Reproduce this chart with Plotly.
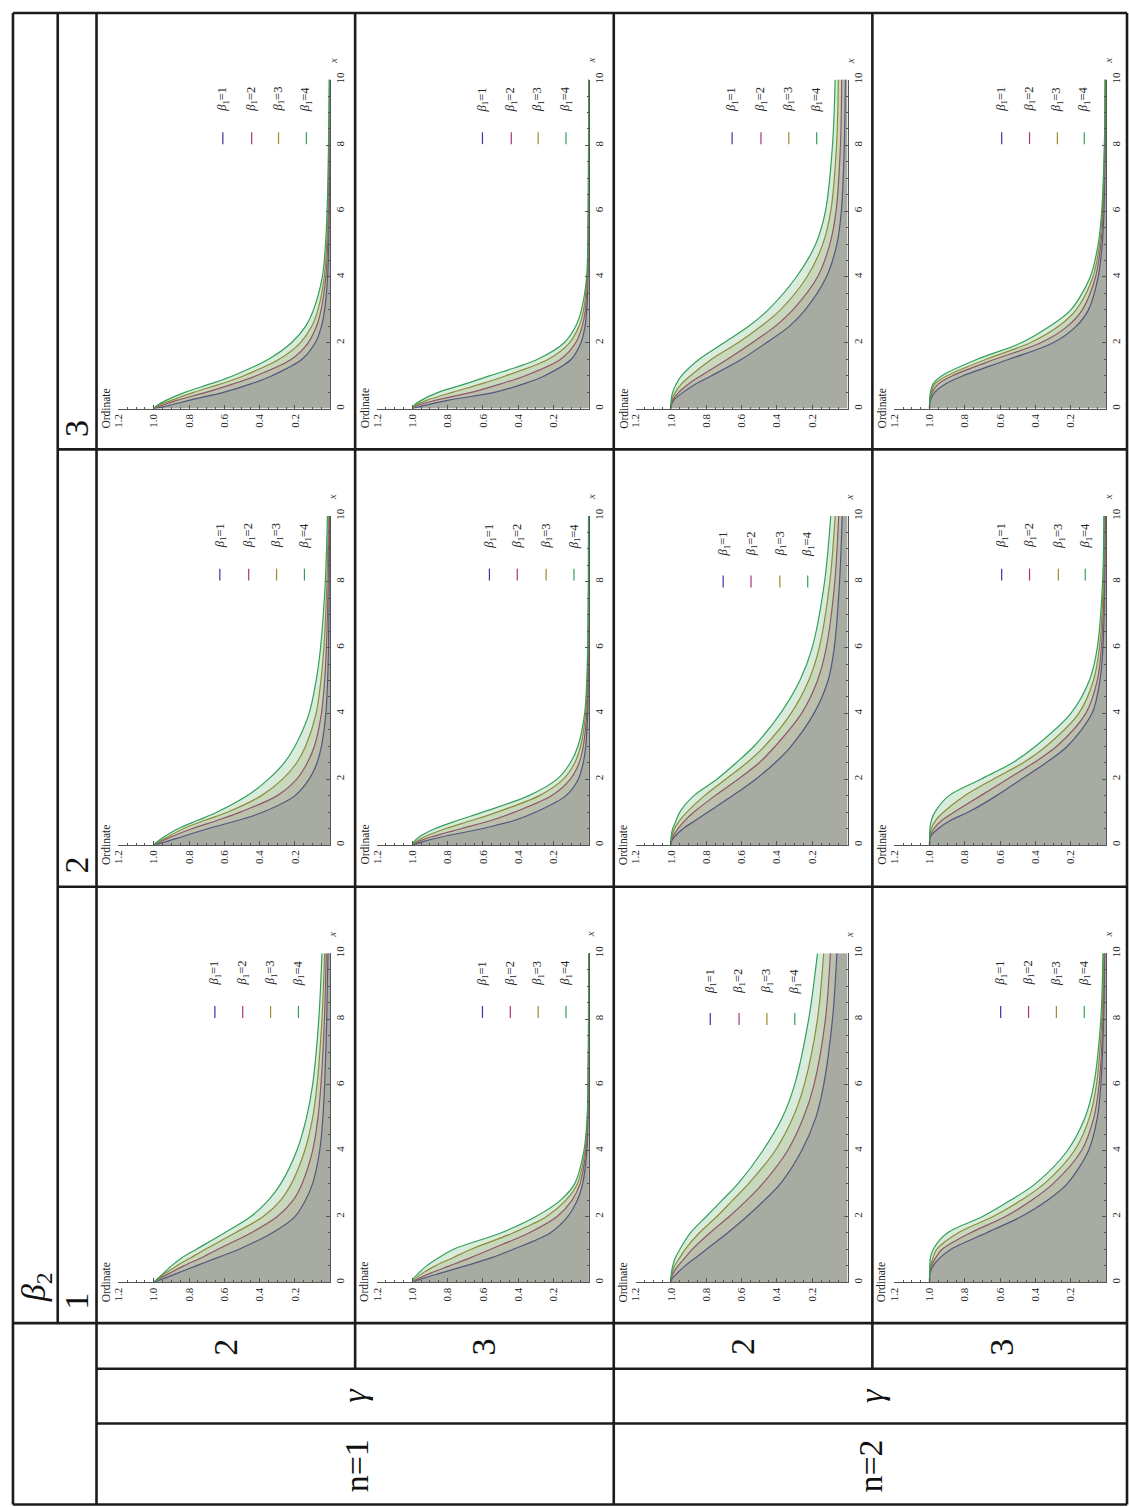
import plotly.graph_objects as go

W, H = 1129, 1507

# ---------------- data ----------------
x_vals = [0, 0.1, 0.25, 0.5, 0.75, 1, 1.5, 2, 2.5, 3, 4, 5, 6, 8, 10]
beta1_values = [1, 2, 3, 4]
beta2_rows = [3, 2, 1]                 # table rows, top to bottom
columns = [(1, 2), (1, 3), (2, 2), (2, 3)]   # (n, gamma) left to right
ord_ticks = [0.2, 0.4, 0.6, 0.8, 1.0, 1.2]
ord_ticktext = ["0.2", "0.4", "0.6", "0.8", "1.0", "1.2"]
x_ticks = [0, 2, 4, 6, 8, 10]
x_ticktext = ["0", "2", "4", "6", "8", "10"]

# ordinate values, one list per beta1 = 1..4
n1g2b3 = [
    [1, 0.91, 0.8, 0.6, 0.45, 0.33, 0.16, 0.085, 0.05, 0.032, 0.015, 0.009, 0.006, 0.003, 0.002],
    [1, 0.95, 0.87, 0.7, 0.55, 0.42, 0.22, 0.125, 0.078, 0.052, 0.025, 0.015, 0.01, 0.005, 0.003],
    [1, 0.97, 0.9, 0.77, 0.62, 0.49, 0.29, 0.17, 0.105, 0.07, 0.034, 0.02, 0.013, 0.007, 0.004],
    [1, 0.98, 0.93, 0.82, 0.68, 0.55, 0.35, 0.22, 0.14, 0.095, 0.045, 0.027, 0.018, 0.01, 0.006],
]
n1g3b3 = [
    [1, 0.93, 0.8, 0.53, 0.37, 0.25, 0.1, 0.045, 0.022, 0.012, 0.005, 0.003, 0.002, 0.001, 0.001],
    [1, 0.97, 0.87, 0.66, 0.5, 0.36, 0.16, 0.075, 0.038, 0.02, 0.008, 0.004, 0.002, 0.001, 0.001],
    [1, 0.98, 0.92, 0.77, 0.61, 0.47, 0.23, 0.11, 0.056, 0.03, 0.01, 0.005, 0.003, 0.0015, 0.001],
    [1, 0.99, 0.95, 0.85, 0.7, 0.56, 0.29, 0.14, 0.075, 0.042, 0.013, 0.006, 0.004, 0.002, 0.001],
]
n2g2b3 = [
    [1, 0.998, 0.985, 0.93, 0.86, 0.77, 0.6, 0.46, 0.33, 0.24, 0.12, 0.06, 0.035, 0.018, 0.012],
    [1, 0.999, 0.99, 0.955, 0.9, 0.83, 0.68, 0.54, 0.41, 0.31, 0.17, 0.1, 0.065, 0.04, 0.033],
    [1, 1, 0.995, 0.975, 0.94, 0.89, 0.77, 0.62, 0.49, 0.38, 0.23, 0.14, 0.095, 0.062, 0.052],
    [1, 1, 0.999, 0.99, 0.97, 0.94, 0.84, 0.7, 0.56, 0.45, 0.29, 0.18, 0.125, 0.085, 0.07],
]
n2g3b3 = [
    [1, 1, 0.995, 0.97, 0.91, 0.81, 0.55, 0.3, 0.17, 0.1, 0.045, 0.022, 0.012, 0.005, 0.003],
    [1, 1, 0.998, 0.985, 0.95, 0.87, 0.63, 0.37, 0.22, 0.135, 0.06, 0.03, 0.017, 0.007, 0.004],
    [1, 1, 0.999, 0.99, 0.97, 0.9, 0.68, 0.43, 0.27, 0.17, 0.075, 0.037, 0.021, 0.009, 0.005],
    [1, 1, 1, 0.995, 0.98, 0.93, 0.73, 0.48, 0.32, 0.2, 0.09, 0.045, 0.025, 0.01, 0.006],
]
n1g2b2 = [
    [1, 0.93, 0.84, 0.69, 0.52, 0.38, 0.2, 0.12, 0.075, 0.05, 0.025, 0.015, 0.01, 0.006, 0.004],
    [1, 0.96, 0.9, 0.78, 0.64, 0.51, 0.3, 0.19, 0.13, 0.09, 0.05, 0.032, 0.022, 0.012, 0.007],
    [1, 0.97, 0.92, 0.83, 0.71, 0.58, 0.39, 0.27, 0.19, 0.14, 0.08, 0.053, 0.036, 0.019, 0.011],
    [1, 0.98, 0.94, 0.86, 0.75, 0.64, 0.47, 0.35, 0.26, 0.2, 0.12, 0.08, 0.055, 0.028, 0.016],
]
n1g3b2 = [
    [1, 0.94, 0.83, 0.6, 0.42, 0.3, 0.13, 0.06, 0.032, 0.018, 0.007, 0.004, 0.002, 0.001, 0.001],
    [1, 0.97, 0.89, 0.72, 0.55, 0.42, 0.21, 0.105, 0.055, 0.032, 0.012, 0.006, 0.003, 0.0015, 0.001],
    [1, 0.98, 0.93, 0.81, 0.66, 0.52, 0.28, 0.145, 0.08, 0.047, 0.018, 0.009, 0.005, 0.002, 0.0015],
    [1, 0.99, 0.96, 0.87, 0.74, 0.6, 0.34, 0.18, 0.105, 0.062, 0.024, 0.012, 0.007, 0.003, 0.002],
]
n2g2b2 = [
    [1, 0.998, 0.98, 0.93, 0.86, 0.79, 0.65, 0.52, 0.41, 0.32, 0.19, 0.11, 0.075, 0.045, 0.03],
    [1, 0.999, 0.99, 0.96, 0.92, 0.87, 0.75, 0.62, 0.5, 0.41, 0.26, 0.17, 0.12, 0.072, 0.05],
    [1, 1, 0.995, 0.98, 0.95, 0.91, 0.81, 0.69, 0.57, 0.47, 0.32, 0.22, 0.16, 0.1, 0.07],
    [1, 1, 0.999, 0.99, 0.97, 0.95, 0.87, 0.74, 0.63, 0.53, 0.38, 0.27, 0.2, 0.13, 0.095],
]
n2g3b2 = [
    [1, 1, 0.995, 0.95, 0.88, 0.78, 0.62, 0.48, 0.34, 0.22, 0.08, 0.035, 0.018, 0.008, 0.005],
    [1, 1, 0.998, 0.975, 0.93, 0.86, 0.71, 0.56, 0.41, 0.28, 0.115, 0.05, 0.027, 0.011, 0.007],
    [1, 1, 0.999, 0.99, 0.965, 0.92, 0.8, 0.64, 0.47, 0.34, 0.155, 0.072, 0.038, 0.015, 0.01],
    [1, 1, 1, 0.998, 0.99, 0.97, 0.89, 0.71, 0.53, 0.4, 0.2, 0.095, 0.05, 0.02, 0.013],
]
n1g2b1 = [
    [1, 0.95, 0.88, 0.76, 0.64, 0.52, 0.33, 0.2, 0.14, 0.1, 0.06, 0.042, 0.032, 0.02, 0.013],
    [1, 0.97, 0.92, 0.83, 0.73, 0.64, 0.45, 0.3, 0.21, 0.16, 0.1, 0.07, 0.053, 0.033, 0.023],
    [1, 0.975, 0.94, 0.87, 0.79, 0.71, 0.54, 0.38, 0.28, 0.22, 0.145, 0.1, 0.075, 0.047, 0.032],
    [1, 0.98, 0.95, 0.9, 0.84, 0.76, 0.6, 0.45, 0.35, 0.28, 0.19, 0.135, 0.1, 0.065, 0.047],
]
n1g3b1 = [
    [1, 0.95, 0.86, 0.7, 0.55, 0.43, 0.22, 0.12, 0.065, 0.035, 0.012, 0.005, 0.003, 0.001, 0.001],
    [1, 0.97, 0.91, 0.79, 0.67, 0.56, 0.34, 0.18, 0.095, 0.05, 0.017, 0.007, 0.003, 0.0015, 0.001],
    [1, 0.985, 0.95, 0.87, 0.77, 0.67, 0.43, 0.24, 0.13, 0.065, 0.022, 0.009, 0.004, 0.002, 0.001],
    [1, 0.995, 0.97, 0.92, 0.85, 0.77, 0.5, 0.3, 0.16, 0.08, 0.028, 0.01, 0.005, 0.002, 0.001],
]
n2g2b1 = [
    [1, 0.995, 0.97, 0.92, 0.86, 0.8, 0.68, 0.57, 0.47, 0.38, 0.26, 0.18, 0.135, 0.085, 0.06],
    [1, 0.999, 0.99, 0.96, 0.92, 0.88, 0.78, 0.67, 0.57, 0.48, 0.34, 0.25, 0.19, 0.125, 0.097],
    [1, 1, 0.995, 0.98, 0.95, 0.92, 0.84, 0.74, 0.65, 0.56, 0.41, 0.31, 0.245, 0.17, 0.135],
    [1, 1, 0.998, 0.99, 0.975, 0.95, 0.89, 0.8, 0.71, 0.62, 0.48, 0.37, 0.3, 0.22, 0.17],
]
n2g3b1 = [
    [1, 1, 0.998, 0.98, 0.94, 0.88, 0.68, 0.48, 0.33, 0.22, 0.1, 0.05, 0.03, 0.014, 0.008],
    [1, 1, 0.999, 0.99, 0.965, 0.93, 0.77, 0.57, 0.42, 0.3, 0.14, 0.07, 0.04, 0.018, 0.011],
    [1, 1, 1, 0.995, 0.98, 0.96, 0.84, 0.64, 0.48, 0.35, 0.18, 0.095, 0.055, 0.024, 0.014],
    [1, 1, 1, 0.999, 0.995, 0.98, 0.9, 0.7, 0.54, 0.4, 0.22, 0.12, 0.07, 0.03, 0.018],
]

panels = {
    (1, 2, 3): n1g2b3, (1, 3, 3): n1g3b3, (2, 2, 3): n2g2b3, (2, 3, 3): n2g3b3,
    (1, 2, 2): n1g2b2, (1, 3, 2): n1g3b2, (2, 2, 2): n2g2b2, (2, 3, 2): n2g3b2,
    (1, 2, 1): n1g2b1, (1, 3, 1): n1g3b1, (2, 2, 1): n2g2b1, (2, 3, 1): n2g3b1,
}

# ---------------- style / geometry (pixels) ----------------
line_colors = ["#3535a8", "#a8357a", "#a08a32", "#33a05a"]
fill_colors = ["rgba(63,61,153,0.2)", "rgba(153,61,113,0.2)",
               "rgba(153,139,61,0.2)", "rgba(61,153,86,0.2)"]
col_x0 = [91, 351, 611, 871]
row_y0 = [5, 444, 884]
legend_dx = {
    (0, 0): [127, 156, 183, 211], (0, 1): [128, 157, 184, 212],
    (0, 2): [119, 148, 176, 204], (0, 3): [130, 158, 186, 213],
    (1, 0): [124, 153, 181, 209], (1, 1): [135, 163, 192, 220],
    (1, 2): [110, 138, 167, 195], (1, 3): [130, 158, 187, 214],
    (2, 0): [119, 147, 175, 203], (2, 1): [128, 156, 184, 212],
    (2, 2): [97, 126, 154, 182], (2, 3): [129, 157, 185, 213],
}
SERIF = "Liberation Serif"
AXC = "#555555"


def px(x):
    return x / W


def py(y):
    return 1 - y / H


fig = go.Figure()
layout = {}
shapes = []
annotations = []

ord_minor = [round(0.05 * i, 2) for i in range(1, 24) if i % 4 != 0]
x_minor = [0.5 * i for i in range(1, 21) if i % 4 != 0]

idx = 0
for r, b2 in enumerate(beta2_rows):
    for c, (n, g) in enumerate(columns):
        idx += 1
        xa = "x" if idx == 1 else f"x{idx}"
        ya = "y" if idx == 1 else f"y{idx}"
        x0, y0 = col_x0[c], row_y0[r]
        series = panels[(n, g, b2)]
        for k in range(4):
            fig.add_trace(go.Scatter(
                x=series[k], y=x_vals, mode="lines",
                line=dict(color=line_colors[k], width=1.2, shape="spline", smoothing=0.9),
                fill="tozerox", fillcolor=fill_colors[k],
                xaxis=xa, yaxis=ya, showlegend=False, hoverinfo="skip"))
        layout["xaxis" if idx == 1 else f"xaxis{idx}"] = dict(
            domain=[px(x0 + 22), px(x0 + 235)], range=[1.2, 0], anchor=ya,
            side="bottom", showline=True, linecolor=AXC, linewidth=1,
            showgrid=False, zeroline=False, ticks="inside", ticklen=4,
            tickcolor=AXC, tickwidth=1, tickmode="array", tickvals=ord_ticks,
            ticktext=ord_ticktext, tickangle=-90,
            tickfont=dict(family=SERIF, size=11, color="#222"),
            minor=dict(tickmode="array", tickvals=ord_minor, ticks="inside",
                       ticklen=2, tickcolor=AXC, tickwidth=1),
            fixedrange=True)
        layout["yaxis" if idx == 1 else f"yaxis{idx}"] = dict(
            domain=[py(y0 + 398), py(y0 + 67)], range=[0, 10], anchor=xa,
            side="right", showline=True, linecolor=AXC, linewidth=1,
            showgrid=False, zeroline=False, ticks="inside", ticklen=4,
            tickcolor=AXC, tickwidth=1, tickmode="array", tickvals=x_ticks,
            ticktext=x_ticktext, tickangle=-90,
            tickfont=dict(family=SERIF, size=11, color="#222"),
            minor=dict(tickmode="array", tickvals=x_minor, ticks="inside",
                       ticklen=2, tickcolor=AXC, tickwidth=1),
            fixedrange=True)
        # axis labels
        annotations.append(dict(x=px(x0 + 9.5), y=py(y0 + 398), xref="paper", yref="paper",
                                text="Ordinate", textangle=-90, showarrow=False,
                                xanchor="center", yanchor="middle",
                                font=dict(family=SERIF, size=11.5, color="#222")))
        annotations.append(dict(x=px(x0 + 237), y=py(y0 + 48), xref="paper", yref="paper",
                                text="<i>x</i>", textangle=-90, showarrow=False,
                                xanchor="center", yanchor="middle",
                                font=dict(family=SERIF, size=11, color="#444")))
        # legend
        low = (c == 2 and r > 0)
        ly1, ly2, lt = (127, 139, 95) if low else (120, 132, 87)
        for k, b1 in enumerate(beta1_values):
            lx = x0 + legend_dx[(r, c)][k]
            shapes.append(dict(type="line", xref="paper", yref="paper",
                               x0=px(lx), x1=px(lx), y0=py(y0 + ly1), y1=py(y0 + ly2),
                               line=dict(color=line_colors[k], width=1.2)))
            annotations.append(dict(x=px(lx + 0.5), y=py(y0 + lt), xref="paper", yref="paper",
                                    text=f"<i>β</i><sub>1</sub>={b1}",
                                    textangle=-90, showarrow=False,
                                    xanchor="center", yanchor="middle",
                                    font=dict(family=SERIF, size=12.5, color="#222")))

# ---------------- table grid ----------------
TC = "#1c1c1c"
TW = 2.6
h_lines = [(7, 1127, 5), (52, 1127, 444), (52, 1127, 884), (7, 1127, 1323),
           (91, 1127, 1369), (91, 1127, 1424), (7, 1127, 1505.5)]
v_lines = [(7, 5, 1505.5), (52, 5, 1323), (91, 5, 1505.5), (351, 5, 1369),
           (611, 5, 1505.5), (871, 5, 1369), (1127, 5, 1505.5)]
for xa_, xb_, yy in h_lines:
    shapes.append(dict(type="line", xref="paper", yref="paper", x0=px(xa_), x1=px(xb_),
                       y0=py(yy), y1=py(yy), line=dict(color=TC, width=TW)))
for xx, ya_, yb_ in v_lines:
    shapes.append(dict(type="line", xref="paper", yref="paper", x0=px(xx), x1=px(xx),
                       y0=py(ya_), y1=py(yb_), line=dict(color=TC, width=TW)))

BIG = dict(family=SERIF, size=34, color="#111")


def big(text, x, y):
    annotations.append(dict(x=px(x), y=py(y), xref="paper", yref="paper", text=text,
                            textangle=-90, showarrow=False, xanchor="center",
                            yanchor="middle", font=BIG))


big("<i>β</i><sub>2</sub>", 30, 1287)
for r, b2 in enumerate(beta2_rows):
    big(str(b2), 71, row_y0[r] + (440 if r < 2 else 439) - 22)
for c, (n, g) in enumerate(columns):
    big(str(g), col_x0[c] + 130, 1347)
big("<i>γ</i>", 351, 1396)
big("<i>γ</i>", 870, 1396)
big("n=1", 352, 1467)
big("n=2", 869, 1467)

fig.update_layout(
    width=W, height=H, margin=dict(l=0, r=0, t=0, b=0),
    paper_bgcolor="white", plot_bgcolor="rgba(0,0,0,0)",
    showlegend=False, shapes=shapes, annotations=annotations, **layout)

fig.write_html(
    "out.html",
    config={"displayModeBar": False, "staticPlot": True},
    post_script="document.body.style.margin='0px';document.body.style.overflow='hidden';",
)
